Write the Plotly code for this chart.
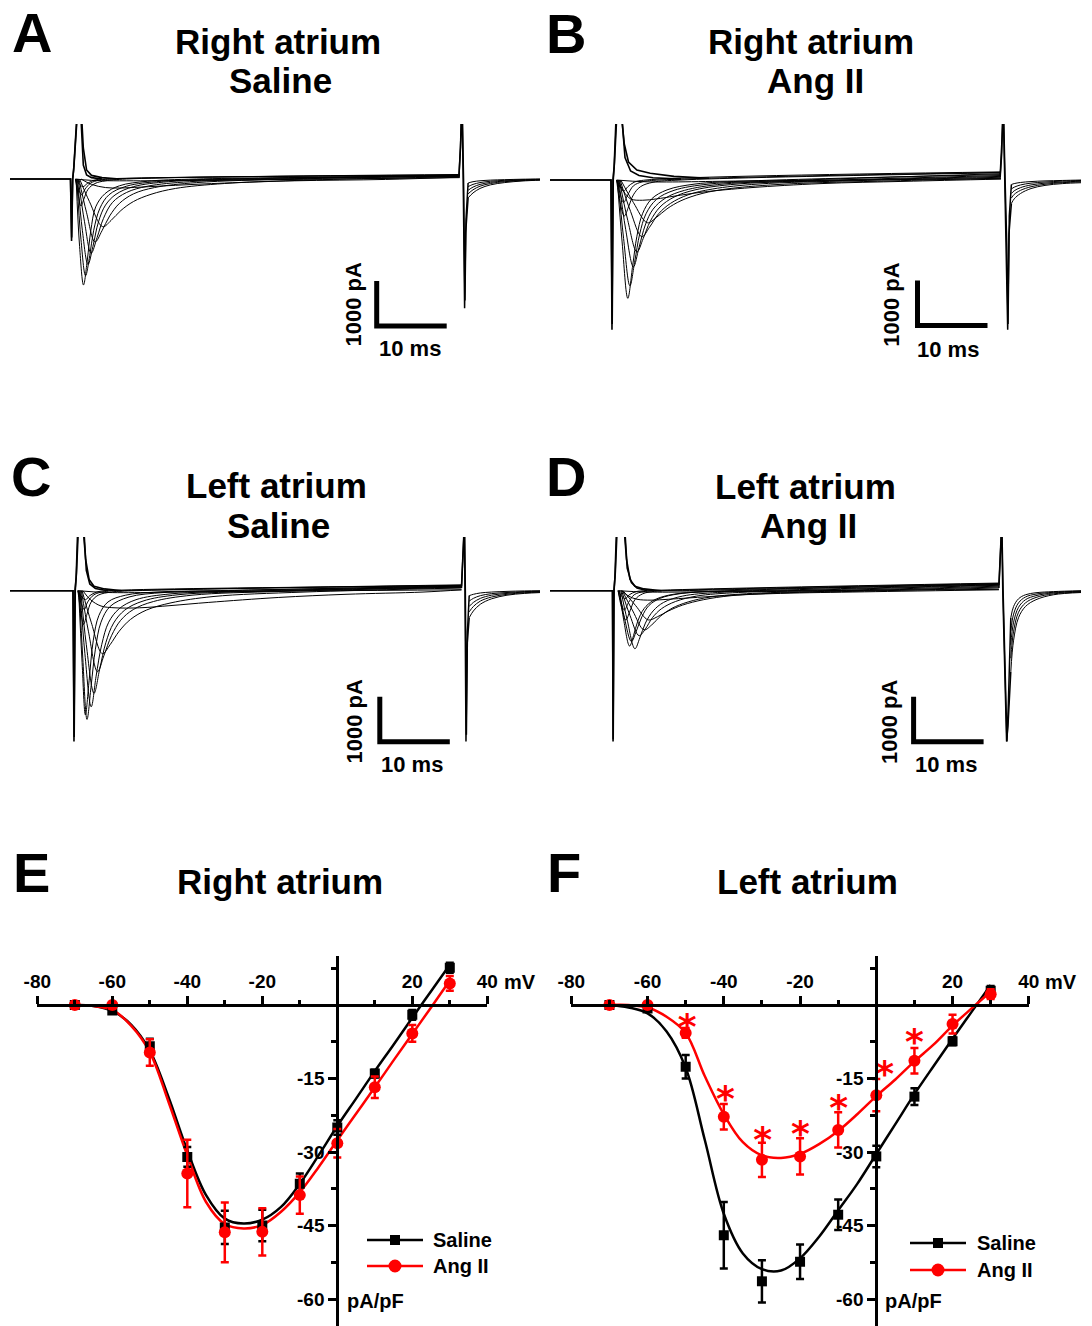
import plotly.graph_objects as go

W, H = 1092, 1326
FONT = "Liberation Sans, Arial, Helvetica, sans-serif"


def fx(x):
    return x / W


def fy(y):
    return 1 - y / H


# ====================== I-V data (panels E, F) ======================
V = [-70, -60, -50, -40, -30, -20, -10, 0, 10, 20, 30]

RA_SALINE = [0, -1.1, -8.4, -31.0, -45.4, -45.0, -36.5, -25.0, -14.0, -2.0, 7.6]
RA_SALINE_ERR = [0.3, 0.5, 1.5, 2.0, 3.4, 3.2, 2.1, 1.5, 0.8, 1.0, 1.0]
RA_ANG = [0, 0, -9.7, -34.4, -46.4, -46.3, -38.8, -28.2, -16.8, -5.8, 4.4]
RA_ANG_ERR = [0.3, 0.4, 2.7, 6.9, 6.1, 4.8, 3.8, 2.9, 2.2, 1.7, 1.5]

LA_SALINE = [0, -0.7, -12.6, -47.0, -56.4, -52.4, -42.8, -30.9, -18.7, -7.4, 2.9]
LA_SALINE_ERR = [0.3, 0.5, 2.4, 6.8, 4.3, 3.5, 3.1, 2.2, 1.7, 0.8, 1.0]
LA_ANG = [0, 0, -5.7, -22.8, -31.6, -30.9, -25.5, -18.4, -11.4, -3.9, 2.2]
LA_ANG_ERR = [0.3, 0.4, 1.0, 2.6, 3.5, 3.7, 3.6, 3.3, 2.6, 1.9, 1.0]

FIT_V = [-70, -65, -60, -55, -50, -45, -40, -35, -30, -25, -20,
         -15, -10, -5, 0, 5, 10, 15, 20, 25, 30]
RA_SALINE_FIT = [0, -0.2, -1.2, -4.0, -9.3, -18.8, -29.7, -38.8, -43.6, -44.6, -43.8,
                 -41.2, -36.5, -30.7, -24.7, -19.1, -13.5, -8.1, -2.6, 2.8, 8.2]
RA_ANG_FIT = [0, -0.2, -1.0, -4.2, -9.6, -19.8, -30.7, -40.2, -44.7, -45.6, -44.9,
              -42.2, -38.2, -33.1, -27.6, -22.2, -16.8, -11.3, -5.9, -0.5, 5.0]
LA_SALINE_FIT = [0, -0.5, -1.7, -5.4, -12.8, -27.5, -42.6, -50.7, -53.9, -54.2, -51.7,
                 -47.3, -41.9, -36.5, -30.4, -24.3, -18.2, -12.5, -6.9, -1.4, 4.1]
LA_ANG_FIT = [0, 0, -0.5, -2.4, -5.7, -14.5, -22.3, -28.0, -30.7, -31.2, -30.4,
              -28.4, -25.7, -22.3, -18.6, -15.2, -11.5, -8.1, -4.2, -0.7, 2.7]

STAR_V = [-49.6, -39.6, -29.8, -19.9, -9.9, 2.2, 10.0]
STAR_Y = [-3.4, -18.1, -26.5, -25.3, -20.1, -13.1, -6.6]

IV_XTICKS = [-80, -60, -40, -20, 20, 40]
IV_XTICKTEXT = ["-80", "-60", "-40", "-20", "20", "40"]
IV_XMINOR = [-70, -50, -30, -10, 10, 30]
IV_YTICKS = [-60, -45, -30, -15]
IV_YTICKTEXT = ["-60", "-45", "-30", "-15"]
IV_YMINOR = [7.5, -7.5, -22.5, -37.5, -52.5]

# ====================== current traces (panels A-D) ======================
# time in ms from step onset, current in pA
SCALE_MS = 10
SCALE_PA = 1000

# ---- A: right atrium, saline
A_ON = [
    ([-8.7, 0, 0.15, 0.3, 0.45, 0.65, 0.95, 1.55, 1.83, 2.3, 3.0, 4.5, 7.0],
     [0, 0, -1380, 0, 200, 800, 1500, 1500, 690, 200, 80, 30, 0]),
    ([-8.7, 0, 0.17, 0.32, 0.5, 0.75, 1.0, 1.45, 1.83, 2.3, 3.0, 4.5],
     [0, 0, -1300, 0, 300, 900, 1500, 1500, 310, 90, 30, 0]),
]
A_SWEEPS = [
    ([0.8, 1.3, 1.86, 2.4, 2.9, 3.6, 4.9, 7, 11, 18, 55.6],
     [0, -1500, -2355, -1800, -1150, -620, -330, -150, -50, 0, 60]),
    ([0.9, 1.5, 2.15, 2.75, 3.3, 4.2, 5.5, 8, 13, 22, 55.6],
     [0, -1350, -2150, -1700, -1150, -650, -350, -160, -50, 0, 70]),
    ([1.0, 1.7, 2.5, 3.2, 4.0, 5.0, 6.5, 9, 14, 25, 55.6],
     [0, -1150, -1900, -1500, -950, -580, -340, -170, -60, 0, 80]),
    ([1.1, 2.0, 2.95, 3.8, 4.7, 6.0, 8, 11, 17, 30, 55.6],
     [0, -950, -1650, -1300, -880, -520, -300, -160, -60, 0, 90]),
    ([1.2, 2.3, 3.5, 4.5, 5.6, 7, 9, 12, 18, 32, 55.6],
     [0, -750, -1400, -1150, -820, -540, -330, -190, -80, 0, 60]),
    ([1.3, 2.7, 4.6, 5.8, 7.2, 9, 11.5, 15, 22, 36, 55.6],
     [0, -500, -1060, -920, -700, -500, -340, -210, -100, -15, 50]),
    ([1.5, 3, 5, 7, 10, 15, 22, 32, 45, 55.6],
     [0, -120, -190, -200, -180, -140, -90, -40, -10, 40]),
    ([0.7, 1.1, 1.5, 1.9, 2.5, 3.5, 5, 8, 55.6],
     [0, -350, -600, -450, -230, -100, -40, 0, 100]),
    ([0.7, 1.2, 1.6, 2.1, 2.9, 4, 6, 55.6],
     [0, -250, -350, -220, -90, -30, 0, 90]),
    ([0.7, 1.3, 1.8, 2.4, 3.3, 5, 55.6],
     [0, -120, -170, -100, -30, 0, 80]),
    ([0.7, 3, 10, 25, 55.6],
     [0, -30, -40, -20, 30]),
]
A_OFF = [
    ([55.5, 55.7, 55.8, 55.95, 56.1, 56.3, 56.45, 56.65, 56.8],
     [70, 800, 1500, 1500, 0, -2870, -1200, -600, -420]),
    ([55.5, 55.72, 55.82, 55.97, 56.15, 56.35, 56.5, 56.7, 56.8],
     [90, 700, 1500, 1500, 0, -2700, -900, -300, -90]),
]
A_TAIL_T = [56.8, 57.5, 58.5, 60, 62, 64.5, 67.3]
A_TAILS = [
    [-420, -310, -210, -130, -80, -45, -25],
    [-330, -240, -160, -100, -60, -35, -20],
    [-250, -180, -120, -75, -45, -25, -10],
    [-170, -120, -80, -50, -30, -15, -5],
    [-90, -60, -40, -25, -15, -5, 0],
]

# ---- B: right atrium, Ang II
B_ON = [
    ([-8.8, 0, 0.14, 0.28, 0.45, 0.75, 1.45, 1.9, 2.5, 3.7, 5.6, 9, 14],
     [0, 0, -3330, 0, 300, 1500, 1500, 800, 400, 220, 150, 80, 40]),
    ([-8.8, 0, 0.17, 0.32, 0.5, 0.85, 1.5, 2.0, 2.8, 4, 6, 10],
     [0, 0, -3200, 0, 400, 1500, 1500, 500, 200, 100, 50, 20]),
]
B_SWEEPS = [
    ([0.9, 1.6, 2.4, 3.1, 3.7, 4.5, 5.8, 8, 12, 20, 55.7],
     [0, -1400, -2630, -1900, -1250, -750, -420, -220, -90, -20, 120]),
    ([1.0, 1.8, 2.7, 3.4, 4.1, 5, 6.5, 9, 14, 24, 55.7],
     [0, -1300, -2350, -1800, -1200, -750, -430, -230, -90, -20, 140]),
    ([1.1, 2.1, 3.2, 4.0, 4.9, 6, 7.8, 10.5, 16, 28, 55.7],
     [0, -1100, -1930, -1500, -1000, -650, -400, -230, -90, -20, 100]),
    ([1.2, 2.4, 3.7, 4.6, 5.6, 7, 9, 12, 18, 32, 55.7],
     [0, -900, -1600, -1300, -920, -600, -380, -220, -90, -15, 80]),
    ([1.3, 2.8, 4.4, 5.5, 6.8, 8.5, 11, 14.5, 21, 35, 55.7],
     [0, -700, -1260, -1050, -750, -520, -330, -200, -90, -15, 60]),
    ([1.4, 3.2, 5.2, 6.5, 8, 10, 13, 17, 25, 40, 55.7],
     [0, -500, -950, -830, -640, -460, -300, -190, -90, -20, 40]),
    ([1.0, 1.8, 2.8, 4.5, 6.5, 9, 13, 20, 30, 42, 55.7],
     [0, -250, -420, -450, -420, -360, -270, -170, -80, -30, 20]),
    ([0.8, 1.3, 1.9, 2.5, 3.2, 4.2, 6, 10, 55.7],
     [0, -500, -800, -600, -330, -150, -50, 0, 160]),
    ([0.8, 1.3, 1.8, 2.4, 3.2, 4.5, 7, 55.7],
     [0, -300, -500, -330, -130, -40, 0, 170]),
    ([0.8, 1.3, 1.8, 2.4, 3.3, 5, 55.7],
     [0, -150, -250, -150, -50, 0, 180]),
    ([0.8, 5, 20, 55.7],
     [0, -40, -20, 30]),
]
B_OFF = [
    ([55.6, 55.8, 55.93, 56.05, 56.25, 56.5, 56.67, 56.85, 57.2],
     [120, 700, 1500, 1500, 0, -1800, -3330, -1200, -520]),
    ([55.6, 55.82, 55.95, 56.08, 56.3, 56.55, 56.72, 56.9, 57.2],
     [60, 600, 1500, 1500, 0, -1500, -3200, -800, -100]),
]
B_TAIL_T = [57.2, 57.6, 58.5, 60, 62, 64.5, 67.3]
B_TAILS = [
    [-520, -420, -300, -190, -120, -80, -60],
    [-400, -320, -230, -150, -95, -60, -40],
    [-300, -240, -170, -110, -70, -45, -25],
    [-200, -160, -110, -70, -45, -25, -10],
    [-100, -80, -55, -35, -20, -10, 0],
]

# ---- C: left atrium, saline
C_ON = [
    ([-9, 0, 0.14, 0.28, 0.45, 0.7, 1.4, 1.8, 2.3, 3, 4.5, 7],
     [0, 0, -3350, 0, 300, 1500, 1500, 700, 250, 100, 40, 0]),
    ([-9, 0, 0.17, 0.32, 0.5, 0.8, 1.5, 1.9, 2.4, 3.2, 5],
     [0, 0, -3250, 0, 400, 1500, 1500, 450, 150, 50, 0]),
]
C_SWEEPS = [
    ([0.8, 1.3, 1.77, 2.3, 2.9, 3.7, 5, 7.5, 12, 20, 55.5],
     [0, -1600, -2760, -2000, -1100, -550, -250, -100, -30, 0, 100]),
    ([0.9, 1.4, 2.0, 2.6, 3.2, 4.0, 5.3, 8, 13, 22, 55.5],
     [0, -1500, -2860, -2100, -1300, -700, -350, -140, -40, 0, 110]),
    ([1.0, 1.7, 2.6, 3.3, 4.1, 5.1, 6.6, 9, 14, 25, 55.5],
     [0, -1400, -2580, -1900, -1200, -700, -400, -200, -70, -10, 90]),
    ([1.1, 1.9, 3.0, 3.8, 4.7, 5.8, 7.4, 10, 15, 28, 55.5],
     [0, -1200, -2280, -1750, -1150, -720, -430, -230, -90, -10, 80]),
    ([1.2, 2.2, 3.5, 4.4, 5.5, 6.8, 8.6, 11.5, 17, 30, 55.5],
     [0, -900, -1800, -1450, -1000, -660, -420, -240, -100, -15, 70]),
    ([1.3, 2.6, 4.2, 5.3, 6.6, 8.2, 10.5, 14, 20, 33, 55.5],
     [0, -700, -1400, -1200, -900, -640, -430, -270, -130, -30, 60]),
    ([1.4, 2.5, 4, 6, 9.5, 14, 19.4, 29.4, 39, 50, 55.5],
     [0, -200, -340, -380, -380, -330, -260, -150, -80, -30, 20]),
    ([0.7, 1.1, 1.5, 2.0, 2.6, 3.6, 5.5, 9, 55.5],
     [0, -450, -750, -520, -250, -100, -30, 0, 120]),
    ([0.7, 1.2, 1.6, 2.1, 3, 4.5, 7, 55.5],
     [0, -300, -420, -250, -90, -20, 0, 130]),
    ([0.7, 1.3, 1.8, 2.4, 3.4, 5, 55.5],
     [0, -150, -200, -110, -30, 0, 110]),
    ([0.7, 5, 20, 55.5],
     [0, -40, -20, 20]),
]
C_OFF = [
    ([55.5, 55.65, 55.77, 55.9, 56.0, 56.14, 56.3, 56.5, 56.6],
     [100, 800, 1500, 1500, 0, -3350, -1200, -700, -600]),
    ([55.5, 55.68, 55.8, 55.93, 56.05, 56.2, 56.35, 56.5, 56.6],
     [60, 700, 1500, 1500, 0, -3200, -900, -300, -110]),
]
C_TAIL_T = [56.6, 57.2, 58.2, 59.8, 62, 64.5, 67]
C_TAILS = [
    [-600, -450, -300, -180, -100, -60, -40],
    [-470, -350, -230, -140, -80, -45, -30],
    [-350, -260, -170, -100, -60, -30, -20],
    [-230, -170, -110, -65, -40, -20, -10],
    [-110, -80, -50, -30, -15, -5, 0],
]

# ---- D: left atrium, Ang II
D_ON = [
    ([-9, 0, 0.08, 0.2, 0.35, 0.6, 1.6, 2.0, 2.5, 3.2, 4.5, 7],
     [0, 0, -3350, 0, 300, 1500, 1500, 700, 250, 100, 40, 0]),
    ([-9, 0, 0.1, 0.22, 0.4, 0.7, 1.7, 2.1, 2.7, 3.5, 5],
     [0, 0, -3300, 0, 400, 1500, 1500, 500, 180, 60, 0]),
]
D_SWEEPS = [
    ([1.0, 1.6, 2.44, 3.0, 3.6, 4.5, 5.8, 8, 12, 20, 55.2],
     [0, -650, -1230, -1000, -680, -400, -220, -100, -30, 0, 130]),
    ([1.2, 2.1, 3.2, 3.9, 4.7, 5.8, 7.3, 10, 15, 25, 55.2],
     [0, -650, -1290, -1050, -720, -450, -260, -120, -40, 0, 120]),
    ([1.0, 1.7, 2.7, 3.4, 4.2, 5.2, 6.8, 9.5, 15, 55.2],
     [0, -600, -1130, -900, -580, -330, -170, -70, -10, 140]),
    ([1.3, 2.5, 3.8, 4.7, 5.7, 7, 9, 12, 18, 30, 55.2],
     [0, -550, -1000, -850, -600, -400, -240, -120, -40, 0, 100]),
    ([1.4, 2.9, 4.5, 5.6, 6.9, 8.5, 10.8, 14, 20, 32, 55.2],
     [0, -450, -870, -760, -560, -390, -250, -140, -60, -10, 80]),
    ([1.5, 3.3, 5.1, 6.4, 8, 10, 13, 17, 24, 36, 55.2],
     [0, -330, -650, -580, -450, -320, -200, -110, -50, -10, 60]),
    ([1.3, 2.3, 3.5, 5.5, 8, 11, 16, 24, 36, 55.2],
     [0, -120, -190, -210, -190, -160, -110, -60, -25, 20]),
    ([0.8, 1.3, 1.9, 2.5, 3.2, 4.3, 6, 10, 55.2],
     [0, -380, -650, -450, -200, -70, -15, 0, 150]),
    ([0.8, 1.2, 1.7, 2.3, 3.1, 4.5, 7, 55.2],
     [0, -250, -430, -260, -90, -20, 0, 160]),
    ([0.8, 1.3, 1.8, 2.4, 3.4, 5, 55.2],
     [0, -120, -180, -90, -20, 0, 170]),
    ([0.8, 5, 20, 55.2],
     [0, -30, -10, 30]),
]
D_OFF = [
    ([55.2, 55.35, 55.46, 55.6, 55.75, 56.0, 56.3, 56.5, 56.7, 56.9],
     [130, 800, 1500, 1500, 0, -1500, -3350, -3000, -2200, -1800]),
    ([55.2, 55.37, 55.48, 55.62, 55.8, 56.05, 56.35, 56.55, 56.75, 56.9],
     [60, 700, 1500, 1500, 0, -1800, -3350, -2500, -1300, -600]),
]
D_TAIL_T = [56.9, 57.3, 58.0, 59.0, 60.5, 63, 67]
D_TAILS = [
    [-1800, -1100, -600, -350, -200, -90, -40],
    [-1500, -900, -480, -270, -150, -70, -30],
    [-1200, -700, -370, -200, -110, -50, -20],
    [-900, -520, -270, -140, -75, -35, -10],
    [-600, -350, -180, -90, -45, -20, 0],
]

# ====================== layout geometry (pixels) ======================
PX_PER_MS = 7.0
PX_PER_PA = 0.045
# key, x0, x1, ytop, ybottom, onset x, baseline y, scale-bar corner (x, y)
TRACE_PANELS = [
    ("A", 10, 540, 124, 360, 70.5, 179.0, 376.7, 326.0,
     A_ON, A_SWEEPS, A_OFF, A_TAIL_T, A_TAILS),
    ("B", 550, 1081, 124, 360, 611.0, 180.0, 917.5, 325.5,
     B_ON, B_SWEEPS, B_OFF, B_TAIL_T, B_TAILS),
    ("C", 10, 540, 537, 775, 73.0, 590.7, 379.8, 741.7,
     C_ON, C_SWEEPS, C_OFF, C_TAIL_T, C_TAILS),
    ("D", 550, 1081, 537, 775, 612.5, 590.7, 913.6, 741.7,
     D_ON, D_SWEEPS, D_OFF, D_TAIL_T, D_TAILS),
]

fig = go.Figure()
layout = dict(
    width=W, height=H, margin=dict(l=0, r=0, t=0, b=0, pad=0, autoexpand=False),
    autosize=False,
    paper_bgcolor="white", plot_bgcolor="rgba(0,0,0,0)",
    showlegend=False,
    font=dict(family=FONT, color="black"),
)

for i, (key, x0, x1, ytop, ybot, onx, basey, sbx, sby,
        on, sweeps, off, tail_t, tails) in enumerate(TRACE_PANELS, start=1):
    xa = "x" if i == 1 else f"x{i}"
    ya = "y" if i == 1 else f"y{i}"
    layout["xaxis" if i == 1 else f"xaxis{i}"] = dict(
        domain=[fx(x0), fx(x1)],
        range=[(x0 - onx) / PX_PER_MS, (x1 - onx) / PX_PER_MS],
        visible=False, anchor=ya)
    layout["yaxis" if i == 1 else f"yaxis{i}"] = dict(
        domain=[fy(ybot), fy(ytop)],
        range=[(basey - ybot) / PX_PER_PA, (basey - ytop) / PX_PER_PA],
        visible=False, anchor=xa)
    for t, c in on:
        fig.add_trace(go.Scatter(x=t, y=c, mode="lines", xaxis=xa, yaxis=ya,
                                 line=dict(color="black", width=1.6)))
    for t, c in sweeps:
        fig.add_trace(go.Scatter(x=t, y=c, mode="lines", xaxis=xa, yaxis=ya,
                                 line=dict(color="black", width=1.0, shape="spline")))
    for t, c in off:
        fig.add_trace(go.Scatter(x=t, y=c, mode="lines", xaxis=xa, yaxis=ya,
                                 line=dict(color="black", width=1.5)))
    for c in tails:
        fig.add_trace(go.Scatter(x=tail_t, y=c, mode="lines", xaxis=xa, yaxis=ya,
                                 line=dict(color="black", width=1.0, shape="spline")))
    # scale bar
    t0 = (sbx - onx) / PX_PER_MS
    i0 = (basey - sby) / PX_PER_PA
    fig.add_trace(go.Scatter(x=[t0, t0, t0 + SCALE_MS], y=[i0 + SCALE_PA, i0, i0],
                             mode="lines", xaxis=xa, yaxis=ya,
                             line=dict(color="black", width=5)))

# ---------------- I-V panels ----------------
IV_ZERO_Y = 1005.0
IV_PX_PER_UNIT = 4.9
IV_TOP_Y = 956.0
IV_PANELS = [
    # x-axis left px, right px, y-axis px, saline, err, ang, err, fits
    (5, 37.3, 487.3, 337.3, RA_SALINE, RA_SALINE_ERR, RA_ANG, RA_ANG_ERR,
     RA_SALINE_FIT, RA_ANG_FIT),
    (6, 571.3, 1028.8, 876.3, LA_SALINE, LA_SALINE_ERR, LA_ANG, LA_ANG_ERR,
     LA_SALINE_FIT, LA_ANG_FIT),
]
tickfont = dict(family=FONT, size=19, color="black", weight="bold")
for (n, xl, xr, yx, sal, sal_e, ang, ang_e, sal_fit, ang_fit) in IV_PANELS:
    xa, ya = f"x{n}", f"y{n}"
    layout[f"xaxis{n}"] = dict(
        domain=[fx(xl), fx(xr)], range=[-80, 40], anchor="free",
        position=fy(IV_ZERO_Y), side="top", showline=True, linecolor="black",
        linewidth=3, ticks="outside", ticklen=8, tickwidth=2.5, tickcolor="black",
        tickmode="array", tickvals=IV_XTICKS, ticktext=IV_XTICKTEXT,
        tickfont=tickfont, showgrid=False, zeroline=False, automargin=False,
        minor=dict(tickmode="array", tickvals=IV_XMINOR, ticks="outside",
                   ticklen=4, tickwidth=2.5, tickcolor="black", showgrid=False),
    )
    layout[f"yaxis{n}"] = dict(
        domain=[0, fy(IV_TOP_Y)],
        range=[-(H - IV_ZERO_Y) / IV_PX_PER_UNIT, (IV_ZERO_Y - IV_TOP_Y) / IV_PX_PER_UNIT],
        anchor="free", position=fx(yx), side="left", showline=True,
        linecolor="black", linewidth=3, ticks="outside", ticklen=8, tickwidth=2.5,
        tickcolor="black", tickmode="array", tickvals=IV_YTICKS,
        ticktext=IV_YTICKTEXT, tickfont=tickfont, showgrid=False, zeroline=False,
        automargin=False,
        minor=dict(tickmode="array", tickvals=IV_YMINOR, ticks="outside",
                   ticklen=5, tickwidth=2.5, tickcolor="black", showgrid=False),
    )
    fig.add_trace(go.Scatter(x=FIT_V, y=sal_fit, mode="lines", xaxis=xa, yaxis=ya,
                             line=dict(color="black", width=2.5, shape="spline")))
    fig.add_trace(go.Scatter(x=FIT_V, y=ang_fit, mode="lines", xaxis=xa, yaxis=ya,
                             line=dict(color="red", width=2.5, shape="spline")))
    fig.add_trace(go.Scatter(
        x=V, y=sal, mode="markers", xaxis=xa, yaxis=ya,
        marker=dict(symbol="square", size=10, color="black"),
        error_y=dict(type="data", array=sal_e, color="black", thickness=2.5, width=4)))
    fig.add_trace(go.Scatter(
        x=V, y=ang, mode="markers", xaxis=xa, yaxis=ya,
        marker=dict(symbol="circle", size=12, color="red"),
        error_y=dict(type="data", array=ang_e, color="red", thickness=2.5, width=4)))

STAR_DY = 1.6
fig.add_trace(go.Scatter(
    x=STAR_V, y=[s - STAR_DY for s in STAR_Y], mode="text", text=["*"] * len(STAR_V),
    textposition="middle center", xaxis="x6", yaxis="y6",
    textfont=dict(family="DejaVu Sans", size=36, color="red", weight="bold")))

fig.update_layout(**layout)

# ---------------- annotations ----------------
ann = []


def add_text(text, x, y, size, angle=0, xanchor="center", color="black"):
    ann.append(dict(text=text, x=fx(x), y=fy(y), xref="paper", yref="paper",
                    showarrow=False, xanchor=xanchor, yanchor="middle",
                    textangle=angle,
                    font=dict(family=FONT, size=size, color=color, weight="bold")))


LETTERS = [("A", 32, 32), ("B", 566, 33), ("C", 31, 476), ("D", 566, 476),
           ("E", 31, 872), ("F", 564, 872)]
for t, x, y in LETTERS:
    add_text(t, x, y, 56)

TITLES = [("Right atrium", 278, 41), ("Saline", 280, 80),
          ("Right atrium", 811, 41), ("Ang II", 815, 80),
          ("Left atrium", 276, 485), ("Saline", 278, 526),
          ("Left atrium", 805, 486), ("Ang II", 808, 526),
          ("Right atrium", 280, 881), ("Left atrium", 807, 881)]
for t, x, y in TITLES:
    add_text(t, x, y, 35)

SCALE_LABELS = [(353.5, 305, 410.3, 349), (891.7, 305, 948.4, 350),
                (354.5, 722, 412, 765), (890, 722, 945.9, 765)]
for vx, vy, hx, hy in SCALE_LABELS:
    add_text(f"{SCALE_PA} pA", vx, vy, 22, angle=-90)
    add_text(f"{SCALE_MS} ms", hx, hy, 22)

for x in (502, 1043):
    add_text("mV", x, 982, 20, xanchor="left")
for x in (345, 883):
    add_text("pA/pF", x, 1301, 20, xanchor="left")

# legends (drawn manually)
shapes = []
LEGENDS = [(367, 423, 1240, 1266, 431), (910, 966, 1243, 1270, 975)]
for lx0, lx1, ys, ya_, tx in LEGENDS:
    for yy, col, sym in ((ys, "black", "square"), (ya_, "red", "circle")):
        shapes.append(dict(type="line", xref="paper", yref="paper",
                           x0=fx(lx0), x1=fx(lx1), y0=fy(yy), y1=fy(yy),
                           line=dict(color=col, width=2.5)))
        cx = (lx0 + lx1) / 2
        r = 5 if sym == "square" else 6.5
        shapes.append(dict(type="rect" if sym == "square" else "circle",
                           xref="paper", yref="paper",
                           x0=fx(cx - r), x1=fx(cx + r), y0=fy(yy + r), y1=fy(yy - r),
                           fillcolor=col, line=dict(color=col, width=0)))
    add_text("Saline", tx, ys, 20, xanchor="left")
    add_text("Ang II", tx, ya_, 20, xanchor="left")

fig.update_layout(annotations=ann, shapes=shapes)

RESET_PAGE = ("document.documentElement.style.margin='0';"
              "document.documentElement.style.overflow='hidden';"
              "document.body.style.margin='0';"
              "document.body.style.padding='0';"
              "document.body.style.overflow='hidden';")
fig.write_html("out.html", config={"responsive": False}, post_script=RESET_PAGE)
